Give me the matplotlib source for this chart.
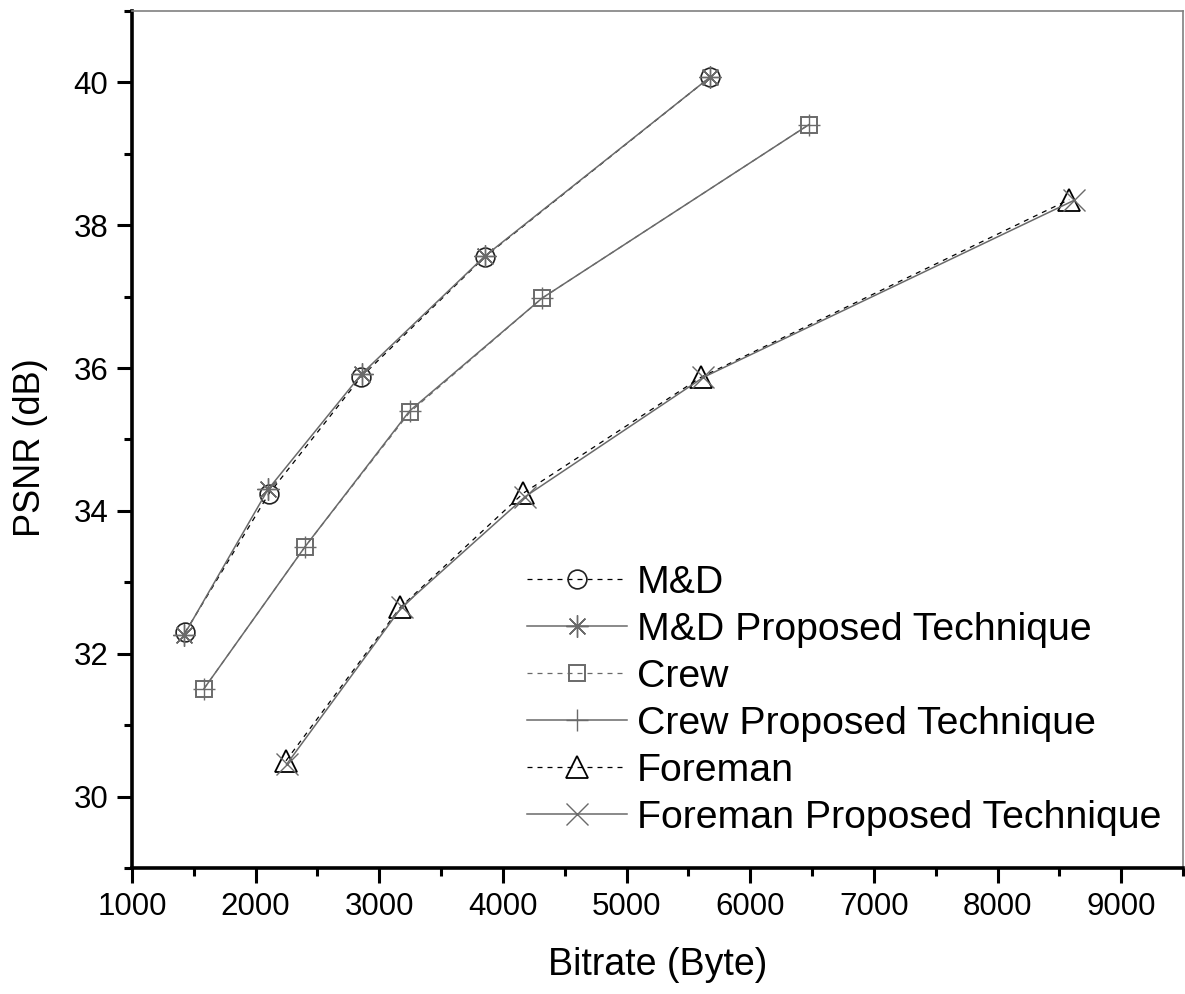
import matplotlib
matplotlib.use("Agg")
import matplotlib.pyplot as plt
from matplotlib.ticker import MultipleLocator

plt.rcParams["font.family"] = ["Liberation Sans", "DejaVu Sans"]

# ---- data ----
MND_X = [1430, 2107, 2850, 3855, 5672]
MND_Y = [32.30, 34.24, 35.87, 37.56, 40.07]
MND_PROP_X = [1420, 2100, 2858, 3855, 5672]
MND_PROP_Y = [32.26, 34.30, 35.92, 37.57, 40.07]

CREW_X = [1582, 2400, 3245, 4317, 6475]
CREW_Y = [31.51, 33.50, 35.38, 36.98, 39.41]
CREW_PROP_X = [1582, 2400, 3245, 4317, 6475]
CREW_PROP_Y = [31.51, 33.50, 35.40, 36.98, 39.41]

FOREMAN_X = [2245, 3170, 4166, 5600, 8580]
FOREMAN_Y = [30.50, 32.65, 34.25, 35.87, 38.36]
FOREMAN_PROP_X = [2250, 3180, 4180, 5620, 8620]
FOREMAN_PROP_Y = [30.45, 32.65, 34.20, 35.87, 38.35]

GRAY = "#6a6a6a"

fig = plt.figure(figsize=(11.85, 9.94), dpi=100)
ax = fig.add_axes([0.1114, 0.1268, 0.8869, 0.8621])

dash = (0, (4, 4))
ax.plot(MND_X, MND_Y, linestyle=dash, color="black", lw=0.9,
        marker="o", ms=13.5, mfc="none", mec="#222222", mew=1.2, label="M&D")
ax.plot(MND_PROP_X, MND_PROP_Y, linestyle="-", color=GRAY, lw=1.1,
        marker=(8, 2, 0), ms=16, mec=GRAY, mew=1.0, label="M&D Proposed Technique")
ax.plot(CREW_X, CREW_Y, linestyle=dash, color=GRAY, lw=0.9,
        marker="s", ms=12, mfc="none", mec=GRAY, mew=1.4, label="Crew")
ax.plot(CREW_PROP_X, CREW_PROP_Y, linestyle="-", color=GRAY, lw=1.1,
        marker="+", ms=16, mec=GRAY, mew=1.0, label="Crew Proposed Technique")
ax.plot(FOREMAN_X, FOREMAN_Y, linestyle=dash, color="black", lw=0.9,
        marker="^", ms=16, mfc="none", mec="black", mew=1.3, label="Foreman")
ax.plot(FOREMAN_PROP_X, FOREMAN_PROP_Y, linestyle="-", color=GRAY, lw=1.1,
        marker="x", ms=16, mec=GRAY, mew=1.0, label="Foreman Proposed Technique")

ax.set_xlim(1000, 9500)
ax.set_ylim(29, 41)
ax.xaxis.set_major_locator(MultipleLocator(1000))
ax.xaxis.set_minor_locator(MultipleLocator(500))
ax.yaxis.set_major_locator(MultipleLocator(2))
ax.yaxis.set_minor_locator(MultipleLocator(1))

for side in ("left", "bottom"):
    ax.spines[side].set_linewidth(2.6)
    ax.spines[side].set_color("black")
for side in ("top", "right"):
    ax.spines[side].set_linewidth(1.2)
    ax.spines[side].set_color("#808080")

ax.tick_params(which="major", direction="out", length=11, width=2.2,
               labelsize=22.5, pad=6)
ax.tick_params(which="minor", direction="out", length=6, width=2.2)

ax.set_xlabel("Bitrate (Byte)", fontsize=27, labelpad=18)
ax.set_ylabel("PSNR (dB)", fontsize=26, labelpad=20)
ax.yaxis.set_label_coords(-0.08, 0.49)

leg = ax.legend(loc="lower right", bbox_to_anchor=(1.0, 0.012), frameon=False,
                fontsize=28.3, handlelength=2.55, handletextpad=0.25,
                labelspacing=0.28, borderaxespad=0.15)

fig.savefig("out.png", dpi=100)
